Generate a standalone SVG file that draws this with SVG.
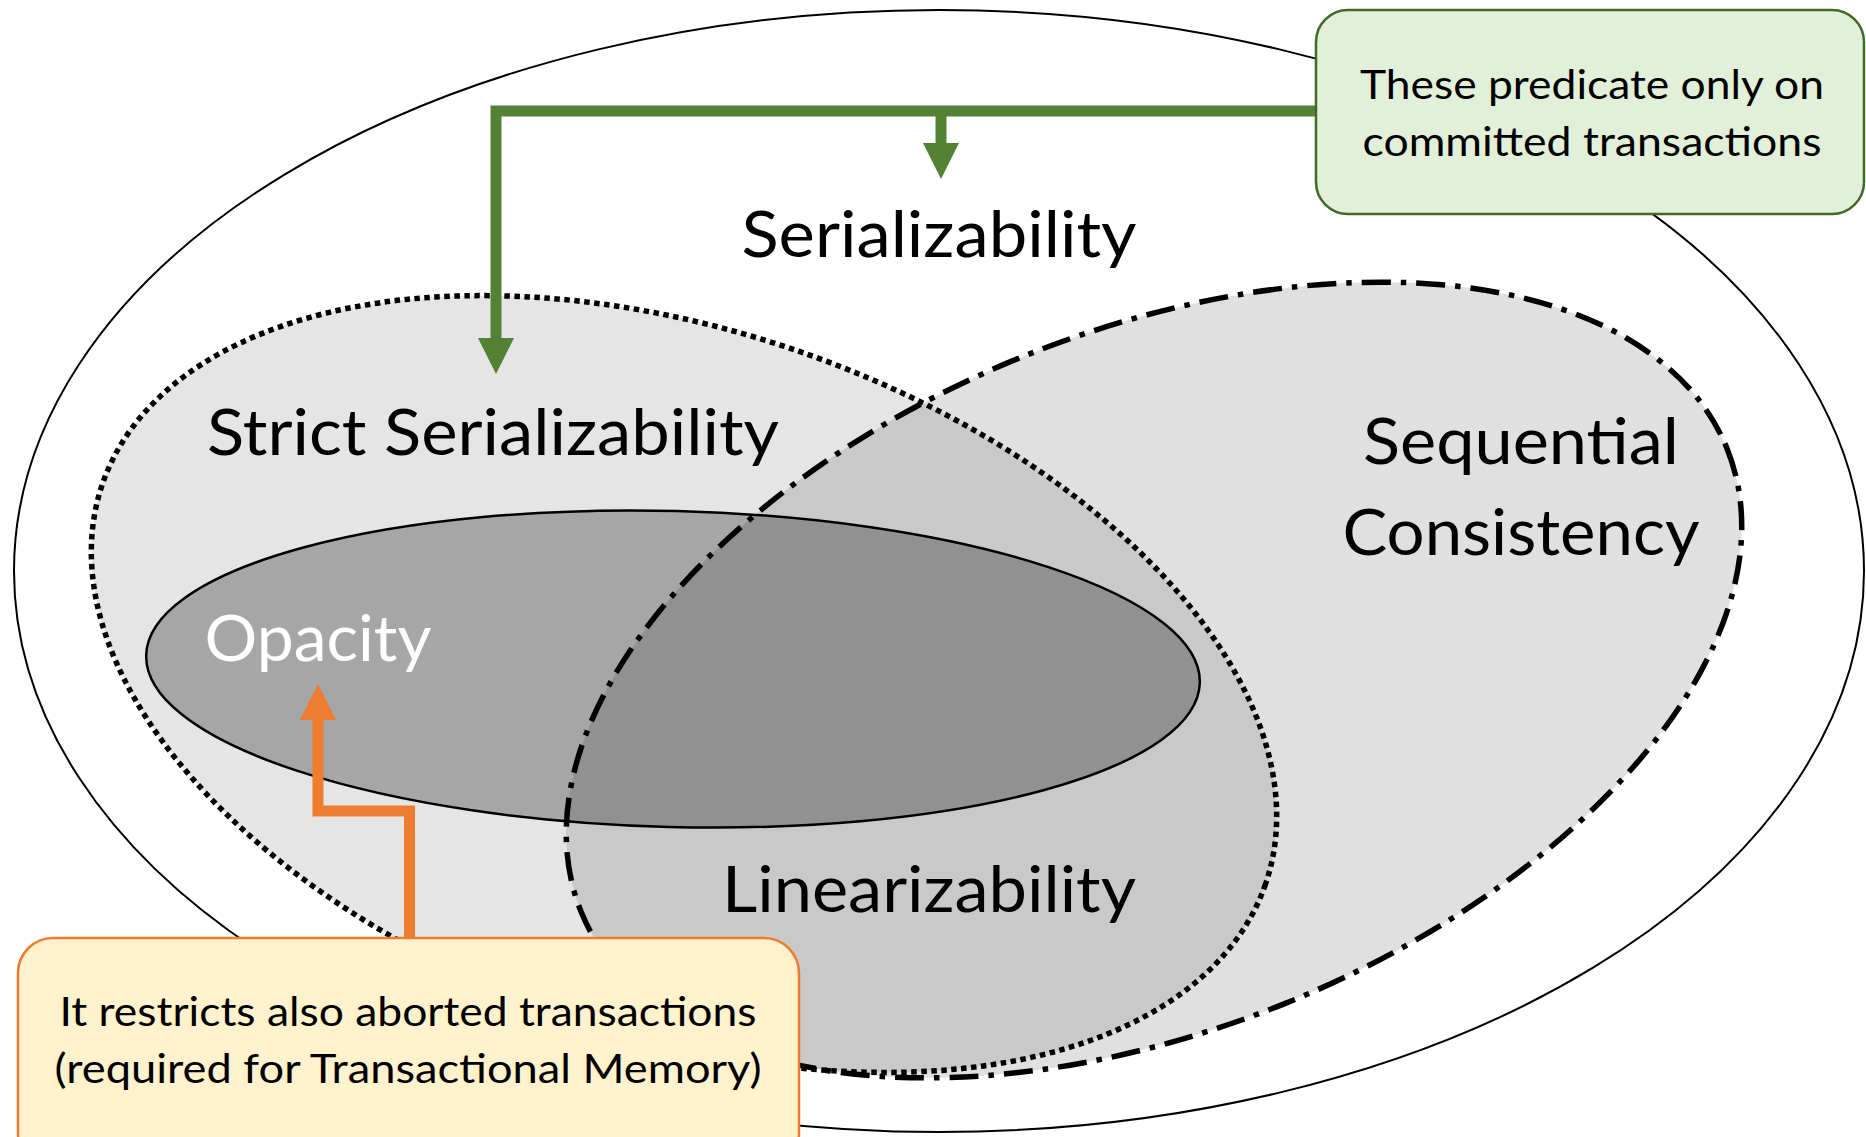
<svg xmlns="http://www.w3.org/2000/svg" width="1866" height="1137" viewBox="0 0 1866 1137">
<style>
.lbl{font-family:Lato,"Open Sans","Liberation Sans",sans-serif;font-size:64px;fill:#000;text-anchor:middle}
.note{font-family:Lato,"Open Sans","Liberation Sans",sans-serif;font-size:40px;fill:#000;text-anchor:middle}
</style>
<defs>
<marker id="ga" markerUnits="userSpaceOnUse" markerWidth="36" markerHeight="36" refX="0" refY="18" orient="auto" viewBox="0 0 36 36"><path d="M0,0 L36,18 L0,36 Z" fill="#548235"/></marker>
<marker id="oa" markerUnits="userSpaceOnUse" markerWidth="36" markerHeight="36" refX="0" refY="18" orient="auto" viewBox="0 0 36 36"><path d="M0,0 L36,18 L0,36 Z" fill="#ed7d31"/></marker>
</defs>
<rect width="1866" height="1137" fill="#fff"/>
<g id="serializability">
<ellipse cx="939" cy="571" rx="925" ry="561" fill="#fff" stroke="#000" stroke-width="2"/>
</g>
<g id="strict-serializability-fill">
<ellipse cx="684" cy="684" rx="615" ry="352" transform="rotate(19 684 684)" fill="#000" fill-opacity="0.1"/>
</g>
<g id="opacity">
<ellipse cx="673" cy="669" rx="527" ry="158" transform="rotate(1.5 673 669)" fill="#a6a6a6" stroke="#000" stroke-width="2.5"/>
</g>
<g id="sequential-consistency">
<ellipse cx="1154" cy="680" rx="618" ry="349" transform="rotate(-22 1154 680)" fill="#000" fill-opacity="0.12" stroke="none"/>
</g>
<g id="strict-serializability">
<ellipse cx="684" cy="684" rx="615" ry="352" transform="rotate(19 684 684)" fill="none" stroke="#000" stroke-width="5.5" stroke-dasharray="5.5 4.5"/>
</g>
<g id="sequential-consistency-outline">
<ellipse cx="1154" cy="680" rx="618" ry="349" transform="rotate(-22 1154 680)" fill="none" stroke="#000" stroke-width="5.5" stroke-dasharray="29 10 5.5 10"/>
</g>
<g id="labels">
<text class="lbl" x="939" y="257" textLength="395" lengthAdjust="spacingAndGlyphs">Serializability</text>
<text class="lbl" x="493" y="455" textLength="572" lengthAdjust="spacingAndGlyphs">Strict Serializability</text>
<text class="lbl" x="1521" y="464" textLength="316" lengthAdjust="spacingAndGlyphs">Sequential</text>
<text class="lbl" x="1521" y="555" textLength="357" lengthAdjust="spacingAndGlyphs">Consistency</text>
<text class="lbl" x="318" y="661" textLength="227" lengthAdjust="spacingAndGlyphs" fill="#fff" style="fill:#fff">Opacity</text>
<text class="lbl" x="929" y="912" textLength="414" lengthAdjust="spacingAndGlyphs">Linearizability</text>
</g>
<g id="connectors" fill="none" stroke-width="11">
<path d="M1316,111 H496 V338" stroke="#548235" marker-end="url(#ga)"/>
<path d="M941,111 V143" stroke="#548235" marker-end="url(#ga)"/>
<path d="M409.5,938 V811 H318 V720" stroke="#ed7d31" marker-end="url(#oa)"/>
</g>
<g id="note-committed">
<rect x="1316" y="10" width="548" height="204" rx="32" fill="#e2f0d9" stroke="#3f6a27" stroke-width="2.5"/>
<text class="note" x="1592" y="99" textLength="464" lengthAdjust="spacingAndGlyphs">These predicate only on</text>
<text class="note" x="1592" y="156" textLength="459" lengthAdjust="spacingAndGlyphs">committed transactions</text>
</g>
<g id="note-aborted">
<rect x="18" y="938" width="781" height="230" rx="35" fill="#fff2cc" stroke="#ed7d31" stroke-width="2.5"/>
<text class="note" x="408" y="1026" textLength="697" lengthAdjust="spacingAndGlyphs">It restricts also aborted transactions</text>
<text class="note" x="408" y="1083" textLength="707" lengthAdjust="spacingAndGlyphs">(required for Transactional Memory)</text>
</g>
</svg>
